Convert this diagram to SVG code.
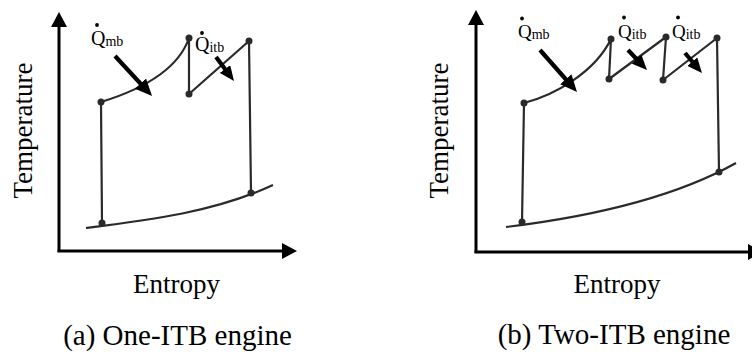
<svg xmlns="http://www.w3.org/2000/svg" width="752" height="354" viewBox="0 0 752 354" font-family="'Liberation Serif', 'DejaVu Serif', serif">
<style>
text{font-family:'Liberation Serif','DejaVu Serif',serif;fill:#000}
.ax{stroke:#000;stroke-width:3;fill:none}
.cy{stroke:#2a2a2a;stroke-width:2.2;fill:none;stroke-linejoin:round}
.pt{fill:#2a2a2a}
.heat{stroke:#000;stroke-width:4.2;fill:none}
.q{font-size:20px}
.sub{font-size:14px}
.lab{font-size:27px}
.ent{font-size:27px}
.cap{font-size:29px}
</style>
<defs>
<marker id="axh" markerUnits="userSpaceOnUse" markerWidth="15" markerHeight="16" refX="0" refY="8" orient="auto">
<path d="M0,0 L15,8 L0,16 z" fill="#000"/>
</marker>
<marker id="hh" markerUnits="userSpaceOnUse" markerWidth="15" markerHeight="13" refX="5" refY="6.5" orient="auto">
<path d="M0,0 L15,6.5 L0,13 z" fill="#000"/>
</marker>
<marker id="hb" markerUnits="userSpaceOnUse" markerWidth="17" markerHeight="15" refX="5" refY="7.5" orient="auto">
<path d="M0,0 L17,7.5 L0,15 z" fill="#000"/>
</marker>
</defs>

<g id="panel-a">
<g id="axes-a">
<line class="ax" x1="59" y1="252" x2="59" y2="27" marker-end="url(#axh)"/>
<line class="ax" x1="57.5" y1="251" x2="282" y2="251" marker-end="url(#axh)"/>
</g>
<g id="cycle-a">
<path class="cy" d="M86,228 C150,220 215,212 273,185"/>
<path class="cy" d="M102,223 L101,102 C140,90 178,70 189,38 L189,94 L249,41 L251,193"/>
<circle class="pt" cx="102" cy="223" r="3.5"/>
<circle class="pt" cx="101" cy="102" r="3.5"/>
<circle class="pt" cx="189" cy="38" r="3.5"/>
<circle class="pt" cx="189" cy="94" r="3.5"/>
<circle class="pt" cx="249" cy="41" r="3.5"/>
<circle class="pt" cx="251" cy="193" r="3.5"/>
</g>
<g id="heat-a">
<line class="heat" x1="115" y1="56" x2="143.9" y2="87.2" marker-end="url(#hb)"/>
<line class="heat" x1="216" y1="57" x2="228" y2="73" marker-end="url(#hh)"/>
</g>
<g id="labels-a" font-family="'Liberation Serif', 'DejaVu Serif', serif">
<text class="q" x="91" y="45">Q<tspan class="sub" dy="1">mb</tspan></text>
<circle cx="97" cy="25" r="1.9" fill="#000"/>
<text class="q" x="195" y="51">Q<tspan class="sub" dy="1">itb</tspan></text>
<circle cx="202" cy="33" r="1.9" fill="#000"/>
<text class="lab" text-anchor="middle" transform="translate(31.5,130.5) rotate(-90)">Temperature</text>
<text class="ent" text-anchor="middle" x="176.5" y="293">Entropy</text>
<text class="cap" text-anchor="middle" x="177.5" y="345">(a) One-ITB engine</text>
</g>
</g>

<g id="panel-b">
<g id="axes-b">
<line class="ax" x1="476" y1="253" x2="476" y2="25" marker-end="url(#axh)"/>
<line class="ax" x1="474.5" y1="252" x2="748" y2="252" marker-end="url(#axh)"/>
</g>
<g id="cycle-b">
<path class="cy" d="M506,227 C580,218 670,200 736,163"/>
<path class="cy" d="M522,222 L524,103 C555,95 595,72 611,39 L609,79 L666,37 L663,80 L717,38 L719,172"/>
<circle class="pt" cx="522" cy="222" r="3.5"/>
<circle class="pt" cx="524" cy="103" r="3.5"/>
<circle class="pt" cx="611" cy="39" r="3.5"/>
<circle class="pt" cx="609" cy="79" r="3.5"/>
<circle class="pt" cx="666" cy="37" r="3.5"/>
<circle class="pt" cx="663" cy="80" r="3.5"/>
<circle class="pt" cx="717" cy="38" r="3.5"/>
<circle class="pt" cx="719" cy="172" r="3.5"/>
</g>
<g id="heat-b">
<line class="heat" x1="540" y1="50" x2="569.1" y2="83" marker-end="url(#hb)"/>
<line class="heat" x1="628" y1="50" x2="640.1" y2="62.8" marker-end="url(#hh)"/>
<line class="heat" x1="685" y1="53" x2="695.5" y2="65.4" marker-end="url(#hh)"/>
</g>
<g id="labels-b" font-family="'Liberation Serif', 'DejaVu Serif', serif">
<text class="q" x="518" y="37.5" style="font-size:19px">Q<tspan class="sub" dy="1">mb</tspan></text>
<circle cx="522" cy="18.5" r="1.9" fill="#000"/>
<text class="q" x="618" y="37.5" style="font-size:19px">Q<tspan class="sub" dy="1">itb</tspan></text>
<circle cx="624" cy="17.5" r="1.9" fill="#000"/>
<text class="q" x="672" y="37.5" style="font-size:19px">Q<tspan class="sub" dy="1">itb</tspan></text>
<circle cx="678" cy="17.5" r="1.9" fill="#000"/>
<text class="lab" text-anchor="middle" transform="translate(448,130.5) rotate(-90)">Temperature</text>
<text class="ent" text-anchor="middle" x="617" y="293">Entropy</text>
<text class="cap" text-anchor="middle" x="614" y="344">(b) Two-ITB engine</text>
</g>
</g>
</svg>
